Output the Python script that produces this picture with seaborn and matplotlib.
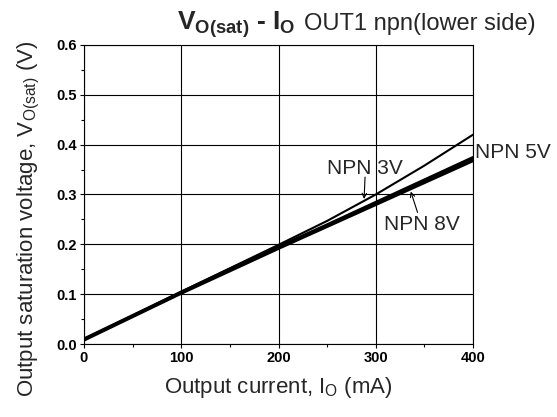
import pandas as pd
import seaborn as sns
import matplotlib.pyplot as plt
from matplotlib.ticker import MultipleLocator

# values
current_ma = [0, 50, 100, 150, 200, 250, 300, 350, 400]
vsat_3v = [0.010, 0.057, 0.105, 0.152, 0.199, 0.247, 0.300, 0.358, 0.420]
vsat_5v = [0.010, 0.057, 0.104, 0.150, 0.195, 0.239, 0.284, 0.329, 0.374]
vsat_8v = [0.008, 0.055, 0.102, 0.147, 0.192, 0.236, 0.280, 0.324, 0.368]
series = ['NPN 3V', 'NPN 5V', 'NPN 8V']

df = pd.DataFrame({
    'Io': current_ma * 3,
    'Vsat': vsat_3v + vsat_5v + vsat_8v,
    'curve': [s for s in series for _ in current_ma],
})

sns.set_theme(style='white')
plt.rcParams['font.family'] = ['Liberation Sans', 'DejaVu Sans']
plt.rcParams['mathtext.fontset'] = 'custom'
plt.rcParams['mathtext.rm'] = 'Liberation Sans'
plt.rcParams['mathtext.bf'] = 'Liberation Sans:bold'
plt.rcParams['mathtext.it'] = 'Liberation Sans:italic'

W, H = 557, 417
fig = plt.figure(figsize=(W / 100, H / 100), dpi=100)
ax = fig.add_axes([84 / W, 1 - 344 / H, (473 - 84) / W, (344 - 45) / H])

sns.lineplot(data=df, x='Io', y='Vsat', hue='curve', palette=['black'] * 3,
             ax=ax, legend=False, linewidth=1.5)
# 5V and 8V sit on top of each other -> heavy line
for line in ax.lines[1:]:
    line.set_linewidth(2.3)

ax.set_xlim(0, 400)
ax.set_ylim(0, 0.6)
ax.xaxis.set_major_locator(MultipleLocator(100))
ax.xaxis.set_minor_locator(MultipleLocator(50))
ax.yaxis.set_major_locator(MultipleLocator(0.1))
ax.yaxis.set_minor_locator(MultipleLocator(0.05))
ax.xaxis.set_major_formatter(lambda v, p: f'{v:.0f}')
ax.yaxis.set_major_formatter(lambda v, p: f'{v:.1f}')
ax.grid(True, which='major', color='black', linewidth=0.8)
ax.tick_params(which='both', direction='out', colors='black', length=3, width=0.8,
               left=True, bottom=True, labelsize=10.5, pad=2)
ax.tick_params(which='minor', length=2)
for lbl in ax.get_xticklabels() + ax.get_yticklabels():
    lbl.set_fontweight('bold')
for sp in ax.spines.values():
    sp.set_color('black')
    sp.set_linewidth(0.8)

ax.set_xlabel(r'Output current, I$_{\mathrm{O}}$ (mA)', fontsize=16, labelpad=7)
ax.set_ylabel(r'Output saturation voltage, V$_{\mathrm{O(sat)}}$ (V)', fontsize=16)
ax.yaxis.set_label_coords(-0.108, 0.42)

arrow = dict(arrowstyle='->', color='black', lw=0.8, shrinkA=0, shrinkB=0,
             mutation_scale=8)
ax.text(250, 0.342, 'NPN 3V', fontsize=15, va='baseline')
ax.annotate('', xy=(288, 0.291), xytext=(289, 0.335), arrowprops=arrow)
ax.text(308, 0.228, 'NPN 8V', fontsize=15, va='baseline')
ax.annotate('', xy=(336, 0.306), xytext=(343, 0.264), arrowprops=arrow)
ax.text(402, 0.373, 'NPN 5V', fontsize=15, va='baseline', clip_on=False)

# title: bold symbol part, then the condition text right after it
t1 = fig.text(177 / W, 1 - 30 / H, r'V$_{\mathbf{O(sat)}}$ - I$_{\mathbf{O}}$',
              fontsize=19, fontweight='bold', va='baseline')
fig.canvas.draw()
x_end = t1.get_window_extent().x1
fig.text((x_end + 9) / W, 1 - 30 / H, 'OUT1 npn(lower side)', fontsize=17,
         va='baseline')

fig.savefig('out.png', dpi=100)
